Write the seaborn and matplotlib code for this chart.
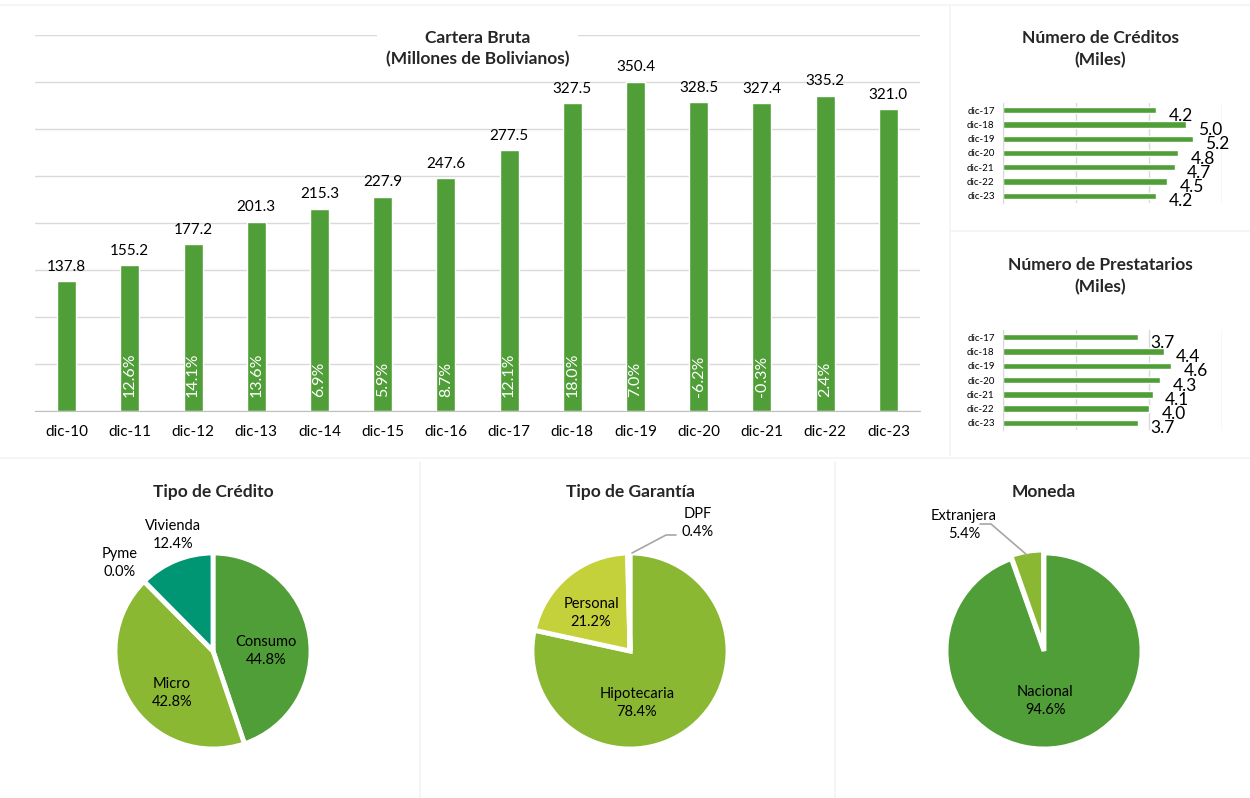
from matplotlib import pyplot as plt
from matplotlib.lines import Line2D
import seaborn as sns
import numpy as np
import pandas as pd


# Datos
anios = ['dic-10', 'dic-11', 'dic-12', 'dic-13', 'dic-14', 'dic-15', 'dic-16',
         'dic-17', 'dic-18', 'dic-19', 'dic-20', 'dic-21', 'dic-22', 'dic-23']
cartera = [137.8, 155.2, 177.2, 201.3, 215.3, 227.9, 247.6,
           277.5, 327.5, 350.4, 328.5, 327.4, 335.2, 321.0]
crecimiento = ['', '12.6%', '14.1%', '13.6%', '6.9%', '5.9%', '8.7%',
               '12.1%', '18.0%', '7.0%', '-6.2%', '-0.3%', '2.4%', '']

anios_cortos = ['dic-17', 'dic-18', 'dic-19', 'dic-20', 'dic-21', 'dic-22', 'dic-23']
creditos = [4.2, 5.0, 5.2, 4.8, 4.7, 4.5, 4.2]
prestatarios = [3.7, 4.4, 4.6, 4.3, 4.1, 4.0, 3.7]

tipo_credito = ['Consumo', 'Micro', 'Pyme', 'Vivienda']
tipo_credito_pct = [44.8, 42.8, 0.0, 12.4]
tipo_garantia = ['Hipotecaria', 'Personal', 'DPF']
tipo_garantia_pct = [78.4, 21.2, 0.4]
moneda = ['Nacional', 'Extranjera']
moneda_pct = [94.6, 5.4]

verde = '#509E38'
verde_claro = '#8AB833'
teal = '#009673'
amarillo = '#C5D13A'
texto = '#000000'

sns.set_style('white')
plt.rcParams['font.family'] = ['Lato', 'DejaVu Sans']

fig = plt.figure(figsize=(12.5, 7.98), dpi=100)

# Separadores de paneles
for (x0, y0, x1, y1) in [(950, 5, 950, 455), (0, 458, 1250, 458), (950, 231, 1250, 231),
                         (420, 462, 420, 798), (835, 462, 835, 798), (0, 5, 1250, 5)]:
    fig.add_artist(Line2D([x0 / 1250, x1 / 1250], [1 - y0 / 798, 1 - y1 / 798],
                          color='#F4F4F4', lw=1.2))

# Cartera Bruta
ax = fig.add_axes([35 / 1250, 1 - 411 / 798, 885 / 1250, 376 / 798])
df = pd.DataFrame({'anio': anios, 'cartera': cartera})
sns.barplot(data=df, x='anio', y='cartera', color=verde, width=0.3,
            saturation=1, ax=ax)
ax.set_ylim(0, 400)
ax.set_xlim(-0.5, len(anios) - 0.5)
ax.set_yticks(np.arange(0, 401, 50))
ax.yaxis.grid(True, color='#D9D9D9', lw=1)
ax.set_axisbelow(True)
ax.tick_params(axis='y', left=False, labelleft=False)
ax.tick_params(axis='x', length=0, labelsize=11, pad=10, colors=texto)
ax.set_xticks(np.arange(-0.5, len(anios), 1), minor=True)
ax.tick_params(axis='x', which='minor', length=5, color='#BFBFBF')
ax.set_xlabel('')
ax.set_ylabel('')
for s in ['top', 'right', 'left']:
    ax.spines[s].set_visible(False)
ax.spines['bottom'].set_color('#BFBFBF')
for i, (v, g) in enumerate(zip(cartera, crecimiento)):
    ax.text(i, v + 8, f'{v:.1f}', ha='center', va='bottom', fontsize=11, color=texto)
    if g:
        ax.text(i, 15, g, ha='center', va='bottom', rotation=90, fontsize=11.5,
                color='white')
ax.text(0.5, 0.963, 'Cartera Bruta\n(Millones de Bolivianos)', transform=ax.transAxes,
        ha='center', va='center', fontsize=12.5, fontweight='bold', linespacing=1.4,
        bbox=dict(facecolor='white', edgecolor='none', pad=6))


# Graficos de barras horizontales
def barras_h(rect, valores, titulo, y_titulo):
    axh = fig.add_axes(rect)
    dfh = pd.DataFrame({'anio': anios_cortos, 'valor': valores})
    sns.barplot(data=dfh, y='anio', x='valor', color=verde, width=0.45,
                saturation=1, orient='h', ax=axh)
    axh.set_xlim(0, 6)
    axh.set_xticks([0, 2, 4, 6])
    axh.xaxis.grid(True, color='#D9D9D9', lw=1)
    axh.set_axisbelow(True)
    axh.tick_params(axis='x', bottom=False, labelbottom=False)
    axh.tick_params(axis='y', labelsize=7, length=0, pad=6, colors=texto)
    axh.set_xlabel('')
    axh.set_ylabel('')
    for s in ['top', 'right', 'bottom']:
        axh.spines[s].set_visible(False)
    axh.spines['left'].set_color('#D9D9D9')
    for i, v in enumerate(valores):
        axh.annotate(f'{v:.1f}', (v, i), xytext=(9, -4), textcoords='offset points',
                     ha='left', va='center', fontsize=12.5, color=texto)
    fig.text(1100 / 1250, 1 - y_titulo / 798, titulo, ha='center', va='center',
             fontsize=12.5, fontweight='bold', linespacing=1.4)


barras_h([1003 / 1250, 1 - 203 / 798, 219 / 1250, 100 / 798], creditos,
         'Número de Créditos\n(Miles)', 49)
barras_h([1003 / 1250, 1 - 430 / 798, 219 / 1250, 100 / 798], prestatarios,
         'Número de Prestatarios\n(Miles)', 276)


# Tortas
def torta(cx, cy, valores, colores, titulo, etiquetas, pos, explode=None,
          guias=None):
    axp = fig.add_axes([(cx - 100) / 1250, 1 - (cy + 100) / 798, 200 / 1250, 200 / 798])
    axp.pie(valores, colors=colores, startangle=90, counterclock=False, radius=0.98,
            explode=explode,
            wedgeprops=dict(edgecolor='white', linewidth=3.5))
    axp.set_xlim(-1, 1)
    axp.set_ylim(-1, 1)
    axp.set_aspect('equal')
    for lab, v, (px, py) in zip(etiquetas, valores, pos):
        axp.text(px, py, f'{lab}\n{v:.1f}%', ha='center', va='center', fontsize=10.5,
                 color=texto, linespacing=1.35)
    if guias:
        for pts in guias:
            xs, ys = zip(*pts)
            axp.plot(xs, ys, color='#A6A6A6', lw=1.2, clip_on=False)
    fig.text(cx / 1250, 1 - 492 / 798, titulo, ha='center', va='center',
             fontsize=12.5, fontweight='bold')


torta(213, 651, tipo_credito_pct, [verde, verde_claro, '#B5D46A', teal], 'Tipo de Crédito',
      tipo_credito, [(0.53, 0.0), (-0.41, -0.42), (-0.93, 0.88), (-0.40, 1.16)])
torta(630, 651, tipo_garantia_pct, [verde_claro, amarillo, '#E0E0E0'], 'Tipo de Garantía',
      tipo_garantia, [(0.07, -0.52), (-0.39, 0.38), (0.68, 1.28)],
      guias=[[(0.02, 0.98), (0.36, 1.16), (0.46, 1.16)]])
torta(1044, 651, moneda_pct, [verde, verde_claro], 'Moneda', moneda,
      [(0.01, -0.50), (-0.80, 1.26)], explode=[0, 0.03],
      guias=[[(-0.17, 0.96), (-0.53, 1.27), (-0.64, 1.27)]])

fig.savefig('out.png', dpi=100, facecolor='white')
